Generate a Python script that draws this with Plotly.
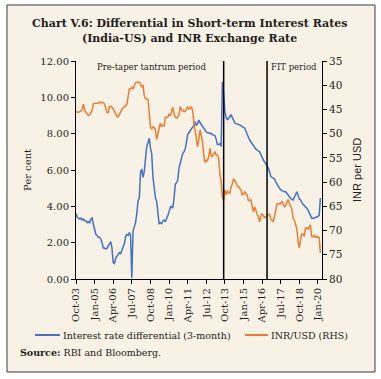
import plotly.graph_objects as go
import pandas as pd

# Monthly data, Oct-2003 to Mar-2020
months = pd.date_range("2003-10-01", "2020-03-01", freq="MS")

ir_diff = [
    3.6, 3.4, 3.35,                                                   # 2003 Oct-Dec
    3.3, 3.35, 3.25, 3.3, 3.2, 3.2, 3.1, 3.15, 3.1, 3.3, 3.35, 3.0,   # 2004
    2.7, 2.45, 2.4, 2.3, 2.3, 2.2, 2.0, 1.7, 1.7, 1.65, 1.7, 1.85,    # 2005
    1.95, 2.05, 1.7, 0.9, 0.85, 1.15, 1.25, 1.3, 1.45, 1.4, 1.6, 1.8, # 2006
    1.95, 2.35, 2.45, 2.4, 2.55, 2.4, 0.05, 2.65, 2.9, 3.1, 3.6, 4.3, # 2007
    4.45, 5.9, 6.05, 5.6, 5.9, 6.6, 7.3, 7.5, 7.75, 7.2, 6.9, 5.6,    # 2008
    4.8, 4.45, 4.3, 3.4, 3.05, 3.1, 3.05, 3.2, 3.25, 3.15, 3.3, 3.5,  # 2009
    3.7, 3.95, 4.0, 3.9, 4.4, 5.2, 5.3, 5.45, 6.1, 6.4, 6.75, 6.9,    # 2010
    7.0, 7.15, 7.5, 7.95, 8.05, 8.15, 8.25, 8.3, 8.45, 8.66, 8.45, 8.55,  # 2011
    8.75, 8.6, 8.5, 8.35, 8.25, 8.15, 8.1, 8.05, 8.05, 8.0, 8.02, 7.95,   # 2012
    7.9, 7.88, 7.7, 7.4, 7.4, 7.45, 7.3, 10.86, 10.2, 9.2, 8.9, 8.75,     # 2013
    8.85, 8.95, 9.05, 8.9, 8.75, 8.6, 8.55, 8.5, 8.5, 8.48, 8.45, 8.4,    # 2014
    8.35, 8.3, 8.1, 7.95, 7.8, 7.65, 7.55, 7.45, 7.3, 7.2, 7.15, 7.1,     # 2015
    7.05, 7.0, 6.85, 6.65, 6.55, 6.45, 6.35, 6.27, 6.1, 5.9, 5.65, 5.6,   # 2016
    5.55, 5.5, 5.35, 5.2, 5.15, 5.0, 4.9, 4.85, 4.8, 4.8, 4.8, 4.7,       # 2017
    4.6, 4.53, 4.45, 4.4, 4.35, 4.5, 4.7, 4.8, 4.6, 4.4, 4.35, 4.2,       # 2018
    4.1, 4.05, 4.0, 3.9, 3.8, 3.65, 3.5, 3.35, 3.35, 3.35, 3.4, 3.4,      # 2019
    3.45, 3.5, 4.45,                                                      # 2020 Jan-Mar
]

inr_usd = [
    45.4, 45.6, 45.6,                                                          # 2003
    45.4, 45.3, 44.9, 43.9, 45.2, 45.5, 46.0, 46.3, 46.1, 45.7, 45.1, 43.8,    # 2004
    43.7, 43.7, 43.7, 43.7, 43.5, 43.6, 43.5, 43.6, 43.9, 44.8, 45.7, 45.6,    # 2005
    44.4, 44.3, 44.5, 44.9, 45.4, 46.0, 46.5, 46.5, 46.1, 45.5, 44.9, 44.6,    # 2006
    44.3, 44.2, 44.0, 42.2, 40.8, 40.8, 40.4, 40.8, 40.3, 39.5, 39.4, 39.4,    # 2007
    39.4, 39.7, 40.4, 40.0, 42.1, 42.8, 42.8, 42.9, 45.6, 48.7, 49.0, 48.6,    # 2008
    48.8, 49.2, 51.2, 50.1, 48.5, 47.8, 48.5, 48.3, 48.4, 46.7, 46.6, 46.6,    # 2009
    45.9, 46.3, 45.5, 44.5, 45.8, 46.6, 46.8, 46.6, 46.1, 44.4, 45.0, 45.2,    # 2010
    45.4, 45.4, 45.0, 44.4, 44.9, 44.8, 44.4, 45.3, 47.6, 49.3, 50.8, 52.7,    # 2011
    51.3, 49.2, 50.3, 51.8, 54.5, 56.0, 55.5, 55.6, 54.6, 53.0, 54.8, 54.6,    # 2012
    54.3, 53.7, 54.4, 54.4, 55.0, 58.4, 59.8, 63.2, 63.8, 61.6, 62.6, 61.9,    # 2013
    62.1, 62.3, 61.0, 60.4, 59.3, 59.7, 60.1, 60.9, 60.9, 61.3, 61.7, 62.7,    # 2014
    62.2, 62.0, 62.4, 62.7, 63.8, 63.8, 63.6, 65.1, 66.2, 65.1, 66.1, 66.6,    # 2015
    67.3, 68.2, 67.0, 66.5, 66.9, 67.3, 67.2, 66.9, 66.7, 66.7, 67.6, 67.9,    # 2016
    68.1, 67.1, 65.9, 64.5, 64.4, 64.4, 64.5, 63.9, 64.4, 65.1, 64.9, 64.2,    # 2017
    63.6, 64.4, 65.0, 65.6, 67.5, 67.8, 68.7, 69.6, 72.2, 73.6, 71.9, 70.7,    # 2018
    70.7, 71.2, 69.5, 69.4, 69.8, 69.4, 68.8, 71.2, 71.3, 71.0, 71.4, 71.2,    # 2019
    71.3, 71.5, 74.6,                                                          # 2020
]

tick_dates = ["2003-10-01", "2005-01-01", "2006-04-01", "2007-07-01", "2008-10-01",
              "2010-01-01", "2011-04-01", "2012-07-01", "2013-10-01", "2015-01-01",
              "2016-04-01", "2017-07-01", "2018-10-01", "2020-01-01"]
tick_labels = ["Oct-03", "Jan-05", "Apr-06", "Jul-07", "Oct-08", "Jan-10", "Apr-11",
               "Jul-12", "Oct-13", "Jan-15", "Apr-16", "Jul-17", "Oct-18", "Jan-20"]

series_names = ["Interest rate differential (3-month)", "INR/USD (RHS)"]
series_colors = ["#4472C4", "#ED7D31"]

period_lines = ["2013-09-01", "2016-08-01"]

SERIF = "DejaVu Serif"
BG = "#F8F1E6"
TXT = "#231F20"

fig = go.Figure()
fig.add_trace(go.Scatter(x=months, y=ir_diff, mode="lines", name=series_names[0],
                         line=dict(color=series_colors[0], width=1.5)))
fig.add_trace(go.Scatter(x=months, y=inr_usd, mode="lines", name=series_names[1],
                         yaxis="y2", line=dict(color=series_colors[1], width=1.5)))

# outer cream box
fig.add_shape(type="rect", xref="paper", yref="paper", x0=-0.2805, x1=1.2154,
              y0=-0.4266, y1=1.2569, fillcolor=BG, line=dict(color="#3a3a3a", width=1),
              layer="below")
for d in period_lines:
    fig.add_shape(type="line", xref="x", yref="paper", x0=d, x1=d, y0=0, y1=1,
                  line=dict(color="black", width=1.5))

# manual legend (single row)
leg_y = -0.2569
leg_items = [(-0.1667, -0.065), (0.687, 0.7805)]
for (x0, x1), nm, col in zip(leg_items, series_names, series_colors):
    fig.add_shape(type="line", xref="paper", yref="paper", x0=x0, x1=x1,
                  y0=leg_y, y1=leg_y, line=dict(color=col, width=2))
    fig.add_annotation(xref="paper", yref="paper", x=x1 + 0.003, y=leg_y, text=nm,
                       showarrow=False, xanchor="left", yanchor="middle",
                       font=dict(size=9.5, family=SERIF, color=TXT))

ann = [
    dict(text="<b>Chart V.6: Differential in Short-term Interest Rates</b>",
         x=0.4634, y=1.174, font=dict(size=11, family=SERIF, color=TXT)),
    dict(text="<b>(India-US) and INR Exchange Rate</b>",
         x=0.4634, y=1.1055, font=dict(size=11, family=SERIF, color=TXT)),
    dict(text="Pre-taper tantrum period", x=0.305, y=0.9725,
         font=dict(size=8.5, family=SERIF, color=TXT)),
    dict(text="FIT period", x=0.886, y=0.9725,
         font=dict(size=8.5, family=SERIF, color=TXT)),
    dict(text="Per cent", x=-0.199, y=0.5, textangle=-90,
         font=dict(size=10, family=SERIF, color=TXT)),
    dict(text="INR per USD", x=1.142, y=0.5, textangle=-90,
         font=dict(size=11, family="Liberation Sans", color=TXT)),
    dict(text="<b>Source:</b> RBI and Bloomberg.", x=-0.2358, y=-0.335, xanchor="left",
         font=dict(size=9.5, family=SERIF, color=TXT)),
]
for a in ann:
    a.setdefault("xanchor", "center")
    fig.add_annotation(xref="paper", yref="paper", showarrow=False, yanchor="middle", **a)

fig.update_layout(
    width=381, height=379,
    margin=dict(l=76, r=59, t=61, b=100, autoexpand=False),
    paper_bgcolor="white", plot_bgcolor=BG,
    font=dict(family=SERIF, size=10, color=TXT),
    showlegend=False,
    xaxis=dict(type="date", range=["2003-10-01", "2020-04-10"],
               tickvals=tick_dates, ticktext=tick_labels, tickangle=-90,
               ticks="outside", ticklen=4, tickcolor="black", showgrid=False,
               showline=True, linecolor="black", linewidth=1, zeroline=False,
               tickfont=dict(size=10, family=SERIF)),
    yaxis=dict(range=[0, 12], dtick=2, tickformat=".2f", ticks="outside", ticklen=4,
               tickcolor="black", showgrid=False, showline=True, linecolor="black",
               linewidth=1, zeroline=False, tickfont=dict(size=10, family=SERIF)),
    yaxis2=dict(range=[80, 35], dtick=5, overlaying="y", side="right", ticks="outside",
                ticklen=4, tickcolor="black", showgrid=False, showline=True,
                linecolor="black", linewidth=1, zeroline=False,
                tickfont=dict(size=10.5, family=SERIF)),
)

fig.write_html("out.html", config={"displayModeBar": False},
               post_script="document.body.style.margin='0';document.body.style.overflow='hidden';")
